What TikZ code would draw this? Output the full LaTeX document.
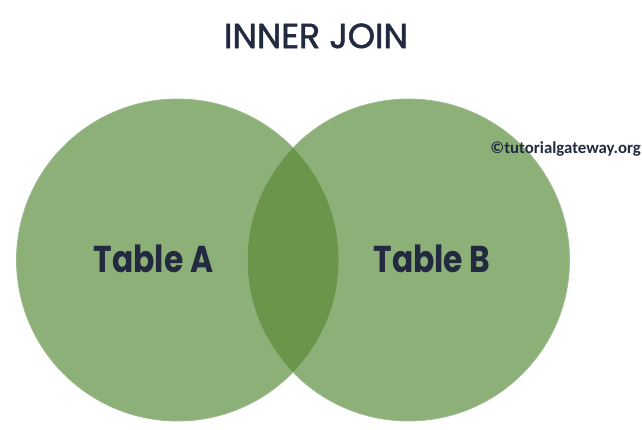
\documentclass[tikz,border=0pt]{standalone}
\usepackage{fontspec}
\setmainfont{Poppins}
\newfontfamily\titlefont[FakeBold=1.6]{Poppins}
\newfontfamily\labelfont[FakeStretch=0.84]{Poppins}
\newfontfamily\markfont{Carlito}
\usepackage{xcolor}
\usepackage{tikz}
\usetikzlibrary{calc}
\definecolor{setgreen}{HTML}{8DAF78}
\definecolor{joingreen}{HTML}{6B954A}
\definecolor{inkblue}{HTML}{222A40}
\tikzset{
    setcircle/.style={fill=setgreen, draw=setgreen!85!white, line width=0.6pt},
    setlabel/.style={text=inkblue, font=\labelfont\fontsize{28}{30}\selectfont\bfseries, inner sep=0pt},
}
\begin{document}
\begin{tikzpicture}[x=0.75pt, y=-0.75pt]
    \useasboundingbox (0,0) rectangle (642,429);
    \coordinate (A) at (177.5, 260);
    \coordinate (B) at (408.5, 260);
    \filldraw[setcircle] (A) circle (161);
    \filldraw[setcircle] (B) circle (161);
    % the common part of both tables
    \begin{scope}
        \clip (A) circle (161);
        \fill[joingreen] (B) circle (161);
    \end{scope}
    \node[text=inkblue, font=\titlefont\fontsize{26}{28}\selectfont, inner sep=0pt, anchor=base] (title) at (316, 48) {INNER JOIN};
    \node[setlabel, anchor=base] (tableA) at (153.5, 272) {Table A};
    \node[setlabel, anchor=base] (tableB) at (432, 272) {Table B};
    \node[text=inkblue, font=\markfont\fontsize{12.6}{13}\selectfont\bfseries, inner sep=0pt, anchor=base east] (mark) at (641, 153) {©tutorialgateway.org};
\end{tikzpicture}
\end{document}
